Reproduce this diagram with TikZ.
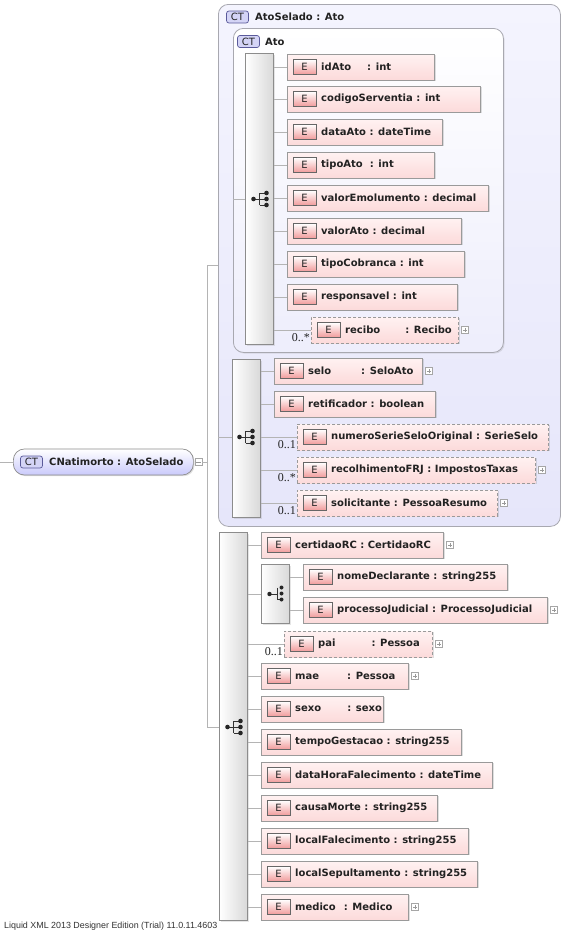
\documentclass[tikz,border=0pt]{standalone}
\usepackage{fontspec}
\setmainfont{DejaVu Sans}
\newfontfamily\lsans{Liberation Sans}
\newfontfamily\lserif{Liberation Serif}
\usetikzlibrary{shadows,calc}
\definecolor{ctfill}{HTML}{E6E6FA}
\definecolor{ctfilltop}{HTML}{F4F4FE}
\definecolor{ctborder}{HTML}{A8A8B0}
\definecolor{elfilla}{HTML}{FFF2F2}
\definecolor{elfillb}{HTML}{FCDADA}
\definecolor{elborder}{HTML}{9A9A9A}
\definecolor{iconred}{HTML}{F09A9A}
\definecolor{iconlav}{HTML}{D4D4F6}
\definecolor{iconlavb}{HTML}{5A5A9A}
\definecolor{connc}{HTML}{B4B4B4}
\definecolor{txt}{HTML}{222222}
\tikzset{
  elbox/.style={draw=elborder, line width=0.7pt, top color=elfilla, bottom color=elfillb, minimum height=26pt, inner sep=0pt,
     drop shadow={shadow xshift=1.2pt, shadow yshift=-1.2pt, opacity=0.25}},
  elboxd/.style={elbox, dashed, dash pattern=on 3pt off 2pt},
  eicon/.style={draw=gray!80!black, line width=0.6pt, top color=white, bottom color=iconred, minimum width=23pt, minimum height=15pt, inner sep=0pt, font=\fontsize{10}{12}\selectfont, text=txt},
  eltext/.style={font=\fontsize{10}{12}\selectfont\bfseries, text=txt, inner sep=0pt},
  cticon/.style={draw=iconlavb, line width=0.7pt, fill=iconlav, rounded corners=2.5pt, minimum width=22pt, minimum height=12pt, inner sep=0pt, font=\fontsize{10}{12}\selectfont, text=txt},
  ctbox/.style={draw=ctborder, line width=0.8pt, rounded corners=10pt, top color=ctfilltop, bottom color=ctfill},
  ctboxin/.style={draw=ctborder, line width=0.8pt, rounded corners=10pt, top color=white, bottom color=ctfill!70!white,
     drop shadow={shadow xshift=1.2pt, shadow yshift=-1.2pt, opacity=0.2}},
  seqbar/.style={draw=gray!90, line width=0.6pt, left color=white, right color=gray!30, inner sep=0pt, minimum width=28pt,
     drop shadow={shadow xshift=1.2pt, shadow yshift=-1.2pt, opacity=0.2}},
  conn/.style={draw=connc, line width=0.7pt},
  plusbox/.style={draw=gray!70, line width=0.5pt, fill=white, minimum size=7pt, inner sep=0pt,
     path picture={\draw[gray!80, line width=0.5pt] ([xshift=-2.2pt]path picture bounding box.center) -- ([xshift=2.2pt]path picture bounding box.center)
        ([yshift=-2.2pt]path picture bounding box.center) -- ([yshift=2.2pt]path picture bounding box.center);}},
  minusbox/.style={draw=gray!70, line width=0.5pt, fill=white, minimum size=7pt, inner sep=0pt,
     path picture={\draw[gray!80, line width=0.5pt] ([xshift=-2.2pt]path picture bounding box.center) -- ([xshift=2.2pt]path picture bounding box.center);}},
  mult/.style={font=\lserif\fontsize{12}{13}\selectfont, text=txt, inner sep=0pt, anchor=south east},
  icondot/.style={fill=black!85, draw=none},
}
% element: name, x, y, width, text
\newcommand\el[5]{%
  \node[elbox, minimum width=#4pt, anchor=west] (#1) at (#2,#3) {};
  \node[eicon] (#1-e) at ([xshift=17.5pt]#1.west) {E};
  \node[eltext, anchor=west] (#1-t) at ([xshift=34pt,yshift=0.3pt]#1.west) {#5};
}
\newcommand\eld[5]{%
  \node[elboxd, minimum width=#4pt, anchor=west] (#1) at (#2,#3) {};
  \node[eicon] (#1-e) at ([xshift=17.5pt]#1.west) {E};
  \node[eltext, anchor=west] (#1-t) at ([xshift=34pt,yshift=0.3pt]#1.west) {#5};
}
\newcommand\plusat[1]{\node[plusbox] (#1-p) at ([xshift=6.5pt]#1.east) {};}
\newcommand\seqicon[2]{%
  \draw[black!80, line width=0.7pt] (#1-6.5,#2) -- (#1-0.5,#2) (#1-0.5,#2-6) -- (#1-0.5,#2+6)
     (#1-0.5,#2-6) -- (#1+6.5,#2-6) (#1-0.5,#2+6) -- (#1+6.5,#2+6) (#1-0.5,#2) -- (#1+6.5,#2);
  \fill[icondot] (#1-6.5,#2) circle (2.3pt) (#1+6.5,#2-6) circle (2.3pt) (#1+6.5,#2) circle (2.3pt) (#1+6.5,#2+6) circle (2.3pt);
}
\newcommand\choiceicon[2]{%
  \draw[black!80, line width=0.7pt] (#1-6.5,#2+1) -- (#1+1,#2+1) (#1+1,#2-5.5) -- (#1+1,#2+6.5) -- (#1+5.5,#2+6.5);
  \fill[icondot] (#1-6.5,#2+1) circle (2.2pt) (#1+5.5,#2-5.5) circle (2pt) (#1+5.5,#2+0.5) circle (2pt) (#1+5.5,#2+6.5) circle (2pt);
}
\begin{document}
\begin{tikzpicture}[x=1pt,y=-1pt]
\useasboundingbox[fill=white] (0,0) rectangle (574,932);

% ---------- outer CT AtoSelado ----------
\node[ctbox, minimum width=342pt, minimum height=522pt, anchor=north west, inner sep=0pt] (atoSelado) at (218,4) {};
\node[cticon] (atoSelado-ct) at (237.5,17) {CT};
\node[eltext, anchor=west] (atoSelado-t) at (255,17) {AtoSelado : Ato};

% inner CT Ato
\node[ctboxin, minimum width=270pt, minimum height=324pt, anchor=north west, inner sep=0pt] (ato) at (233,28) {};
\node[cticon] (ato-ct) at (248.5,41.5) {CT};
\node[eltext, anchor=west] (ato-t) at (265,41.5) {Ato};

\node[seqbar, minimum height=291pt, anchor=north west] (s1) at (245,53) {};
\seqicon{260}{199}
\coordinate (s1in) at (ato.west |- 0,199);
\draw[conn] (s1in) -- (s1.west |- s1in);

\el{idAto}{287}{67}{147}{idAto\hspace{16pt}: int}
\el{codigoServentia}{287}{99}{193}{codigoServentia : int}
\el{dataAto}{287}{132}{155}{dataAto : dateTime}
\el{tipoAto}{287}{165}{147}{tipoAto\hspace{7pt}: int}
\el{valorEmolumento}{287}{198}{201}{valorEmolumento : decimal}
\el{valorAto}{287}{231}{174}{valorAto : decimal}
\el{tipoCobranca}{287}{264}{177}{tipoCobranca : int}
\el{responsavel}{287}{297}{170}{responsavel : int}
\eld{recibo}{311}{330}{147}{recibo\hspace{25pt}: Recibo}
\plusat{recibo}
\node[mult] (recibo-m) at ([xshift=-1pt,yshift=1pt]recibo.south west) {0..*};
\foreach \n in {idAto,codigoServentia,dataAto,tipoAto,valorEmolumento,valorAto,tipoCobranca,responsavel,recibo}
  \draw[conn] (s1.east |- \n.west) -- (\n.west);

% second sequence in AtoSelado
\node[seqbar, minimum height=158pt, anchor=north west] (s2) at (232,359) {};
\seqicon{246}{437}
\coordinate (s2in) at (atoSelado.west |- 0,437);
\draw[conn] (s2in) -- (s2.west |- s2in);

\el{selo}{274}{371}{148}{selo\hspace{30pt}: SeloAto}
\plusat{selo}
\el{retificador}{274}{404}{161}{retificador : boolean}
\eld{numeroSerieSeloOriginal}{297}{437}{251}{numeroSerieSeloOriginal : SerieSelo}
\node[mult] (nsso-m) at ([xshift=-1pt,yshift=1pt]numeroSerieSeloOriginal.south west) {0..1};
\eld{recolhimentoFRJ}{297}{470}{238}{recolhimentoFRJ : ImpostosTaxas}
\plusat{recolhimentoFRJ}
\node[mult] (rfrj-m) at ([xshift=-1pt,yshift=1pt]recolhimentoFRJ.south west) {0..*};
\eld{solicitante}{297}{503}{200}{solicitante : PessoaResumo}
\plusat{solicitante}
\node[mult] (sol-m) at ([xshift=-1pt,yshift=1pt]solicitante.south west) {0..1};
\foreach \n in {selo,retificador,numeroSerieSeloOriginal,recolhimentoFRJ,solicitante}
  \draw[conn] (s2.east |- \n.west) -- (\n.west);

% ---------- root ----------
\node[draw=gray!90, line width=0.7pt, rounded corners=11pt, top color=white, bottom color=ctfill!85!blue!90!white,
   minimum width=180pt, minimum height=26pt, anchor=west, inner sep=0pt,
   drop shadow={shadow xshift=1.2pt, shadow yshift=-1.2pt, opacity=0.25}] (root) at (13,462) {};
\node[cticon] (root-ct) at (31.5,462) {CT};
\node[eltext, anchor=west] (root-t) at (49,462) {CNatimorto : AtoSelado};
\node[minusbox] (root-minus) at (198.5,462) {};
\coordinate (rootin) at (0,462);
\draw[conn] (rootin) -- (root.west);
\coordinate (j0) at (207,462);
\coordinate (j1) at (207,265);
\coordinate (j2) at (207,727);
\draw[conn] (root-minus.east) -- (j0);
\draw[conn] (j1) -- (j2);
\draw[conn] (j1) -- (atoSelado.west |- j1);

% ---------- lower sequence ----------
\node[seqbar, minimum height=388pt, anchor=north west] (s3) at (219,532) {};
\seqicon{234}{727}
\draw[conn] (j2) -- (s3.west |- j2);

\el{certidaoRC}{261}{545}{182}{certidaoRC : CertidaoRC}
\plusat{certidaoRC}
\node[seqbar, minimum height=59pt, anchor=north west] (c1) at (261,564) {};
\choiceicon{276}{593}
\el{nomeDeclarante}{303}{577}{204}{nomeDeclarante : string255}
\el{processoJudicial}{303}{610}{244}{processoJudicial : ProcessoJudicial}
\plusat{processoJudicial}
\draw[conn] (c1.east |- nomeDeclarante.west) -- (nomeDeclarante.west);
\draw[conn] (c1.east |- processoJudicial.west) -- (processoJudicial.west);
\draw[conn] (s3.east |- 0,594) -- (c1.west |- 0,594);
\eld{pai}{284}{644}{148}{pai\hspace{36pt}: Pessoa}
\plusat{pai}
\node[mult] (pai-m) at ([xshift=-1pt,yshift=1pt]pai.south west) {0..1};
\el{mae}{261}{676}{147}{mae\hspace{28pt}: Pessoa}
\plusat{mae}
\el{sexo}{261}{709}{122}{sexo\hspace{26pt}: sexo}
\el{tempoGestacao}{261}{742}{200}{tempoGestacao : string255}
\el{dataHoraFalecimento}{261}{775}{231}{dataHoraFalecimento : dateTime}
\el{causaMorte}{261}{808}{176}{causaMorte : string255}
\el{localFalecimento}{261}{841}{207}{localFalecimento : string255}
\el{localSepultamento}{261}{874}{216}{localSepultamento : string255}
\el{medico}{261}{907}{147}{medico\hspace{8pt}: Medico}
\plusat{medico}
\foreach \n in {certidaoRC,pai,mae,sexo,tempoGestacao,dataHoraFalecimento,causaMorte,localFalecimento,localSepultamento,medico}
  \draw[conn] (s3.east |- \n.west) -- (\n.west);

% footer
\node[anchor=west, font=\lsans\fontsize{8.9}{10}\selectfont, text=black!80, inner sep=0pt] (footer) at (4,926) {Liquid XML 2013 Designer Edition (Trial) 11.0.11.4603};
\end{tikzpicture}
\end{document}
